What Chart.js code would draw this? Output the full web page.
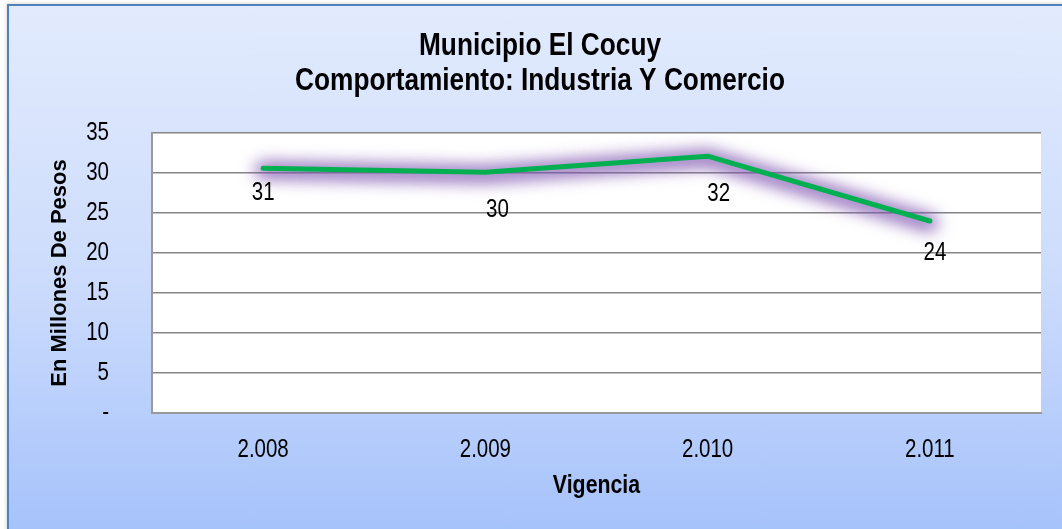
<!DOCTYPE html>
<html>
<head>
<meta charset="utf-8">
<script src="https://cdn.jsdelivr.net/npm/chart.js@4"></script>
<style>
  html, body { margin: 0; padding: 0; background: #ffffff; overflow: hidden; width: 1062px; height: 529px; }
  #frame {
    position: absolute; left: 7px; top: 4px; width: 1080px; height: 540px;
    border-left: 2px solid #4f81bd; border-top: 2px solid #4f81bd;
    background: linear-gradient(to bottom, #e2ebfd 0%, #cddcfc 50%, #a4c1fb 100%);
    box-shadow: -1px -1px 3px rgba(0,0,0,0.15);
  }
  #wrap { position: absolute; left: 0; top: 0; width: 1062px; height: 525px; }
</style>
</head>
<body>
<div id="frame"><div id="wrap"><canvas id="c" width="1062" height="525"></canvas></div></div>
<script>
const categories = ['2.008', '2.009', '2.010', '2.011'];
const values = [30.6, 30.1, 32.1, 24.0];
const yTicks = [0, 5, 10, 15, 20, 25, 30, 35];
const titleLines = ['Municipio El Cocuy', 'Comportamiento: Industria Y Comercio'];
const yTitle = 'En Millones De Pesos';
const xTitle = 'Vigencia';

const FONT = "'Liberation Sans', Arial, sans-serif";
const NARROW_X = 0.82; // horizontal squeeze used for the narrow lettering

// label offsets (px) relative to each point, as placed in the original
const labelOffsets = [[0, 25], [12, 38], [11, 38], [5, 32]];

// Narrow lettering: squeeze horizontal text around its anchor point
const narrowText = {
  id: 'narrowText',
  beforeInit(chart) {
    const ctx = chart.ctx;
    const orig = ctx.fillText.bind(ctx);
    ctx.fillText = function (t, x, y, mw) {
      const m = ctx.getTransform();
      if (Math.abs(m.b) < 1e-6 && Math.abs(m.c) < 1e-6) {
        ctx.save();
        ctx.translate(x, y);
        ctx.scale(NARROW_X, 1);
        orig(t, 0, 0);
        ctx.restore();
      } else {
        orig(t, x, y);
      }
    };
  }
};

// soft purple glow under the line (shadow-only stroke)
const glowPlugin = {
  id: 'glow',
  beforeDatasetsDraw(chart) {
    const ctx = chart.ctx;
    const pts = chart.getDatasetMeta(0).data;
    const OFF = 5000;
    ctx.save();
    ctx.lineJoin = 'round';
    ctx.lineCap = 'round';
    ctx.strokeStyle = '#000';
    ctx.shadowColor = 'rgba(125, 80, 175, 0.62)';
    ctx.shadowBlur = 16;
    ctx.shadowOffsetX = OFF;
    ctx.shadowOffsetY = 2;
    for (let k = 0; k < 2; k++) {
      ctx.lineWidth = k === 0 ? 17 : 8;
      ctx.beginPath();
      pts.forEach((p, i) => { if (i === 0) ctx.moveTo(p.x - OFF, p.y); else ctx.lineTo(p.x - OFF, p.y); });
      ctx.stroke();
    }
    ctx.restore();
  }
};

const plotBg = {
  id: 'plotBg',
  beforeDraw(chart) {
    const {ctx, chartArea: a} = chart;
    ctx.save();
    ctx.fillStyle = '#ffffff';
    ctx.fillRect(a.left, a.top, a.right - a.left, a.bottom - a.top);
    ctx.restore();
  }
};

const dataLabels = {
  id: 'dataLabels',
  afterDatasetsDraw(chart) {
    const ctx = chart.ctx;
    const meta = chart.getDatasetMeta(0);
    ctx.save();
    ctx.font = '25px ' + FONT;
    ctx.fillStyle = '#000000';
    ctx.textAlign = 'center';
    ctx.textBaseline = 'middle';
    meta.data.forEach((pt, i) => {
      const [dx, dy] = labelOffsets[i];
      ctx.fillText(String(Math.round(values[i])), pt.x + dx, pt.y + dy);
    });
    ctx.restore();
  }
};

new Chart(document.getElementById('c'), {
  type: 'line',
  data: {
    labels: categories,
    datasets: [{
      data: values,
      borderColor: '#00b050',
      borderWidth: 5,
      borderCapStyle: 'round',
      borderJoinStyle: 'round',
      pointRadius: 0,
      pointHoverRadius: 0,
      tension: 0,
      fill: false
    }]
  },
  options: {
    responsive: false,
    animation: false,
    events: [],
    layout: { padding: 0 },
    plugins: {
      legend: { display: false },
      tooltip: { enabled: false },
      title: {
        display: true,
        text: titleLines,
        color: '#000000',
        font: { family: FONT, size: 32, weight: 'bold', lineHeight: 35 / 32 },
        padding: { top: 23, bottom: 34 }
      }
    },
    scales: {
      x: {
        offset: true,
        grid: { display: false, drawTicks: false },
        border: { display: true, color: '#9a9a9a', width: 2 },
        ticks: { color: '#000000', font: { family: FONT, size: 25 }, padding: 22, maxRotation: 0, autoSkip: false },
        title: {
          display: true, text: xTitle, color: '#000000',
          font: { family: FONT, size: 26, weight: 'bold' },
          padding: { top: 0, bottom: 30 }
        },
        afterFit(s) { s.height = 118; }
      },
      y: {
        min: 0, max: 35,
        afterBuildTicks(s) { s.ticks = yTicks.map(v => ({ value: v })); },
        grid: { color: '#868686', lineWidth: 1.5, drawTicks: false },
        border: { display: true, color: '#9a9a9a', width: 2 },
        ticks: {
          color: '#000000', font: { family: FONT, size: 25 }, padding: 43,
          callback: v => (v === 0 ? '-' : String(v))
        },
        title: {
          display: true, text: yTitle, color: '#000000',
          font: { family: FONT, size: 22, weight: 'bold' },
          padding: { top: 38, bottom: 0 }
        },
        afterFit(s) { s.width = 143; }
      },
      yRight: {
        type: 'linear',
        position: 'right',
        display: true,
        grid: { display: false, drawTicks: false },
        border: { display: false },
        ticks: { display: false },
        afterFit(s) { s.width = 30; }
      }
    }
  },
  plugins: [narrowText, plotBg, glowPlugin, dataLabels]
});
</script>
</body>
</html>
